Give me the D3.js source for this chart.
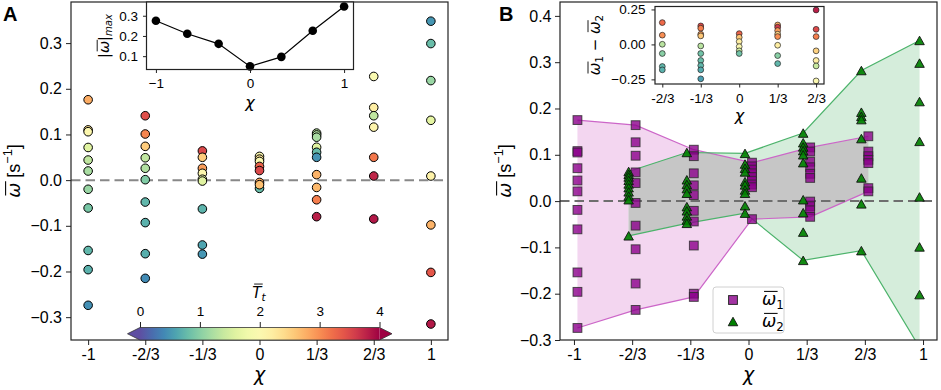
<!DOCTYPE html>
<html><head><meta charset="utf-8">
<script src="https://cdn.jsdelivr.net/npm/d3@7"></script>
<style>body{margin:0;background:#fff;} svg{display:block;}</style>
</head><body><svg id="c" width="941" height="390"></svg>
<script>
// ---------- data ----------
const chiVals = [-1, -2/3, -1/3, 0, 1/3, 2/3, 1];
const chiLabels = ["-1", "-2/3", "-1/3", "0", "1/3", "2/3", "1"];
const cbarTicks = [0, 1, 2, 3, 4];

// Panel A: mean angular velocity per run and its colour value (T_t)
const wA_m1 = [0.176, 0.110, 0.106, 0.0715, 0.044, 0.020, -0.020, -0.061, -0.154, -0.196, -0.274];
const tA_m1 = [2.8, 2.35, 2.05, 1.6, 1.35, 1.2, 1.1, 0.9, 0.75, 0.7, 0.45];
const wA_m23 = [0.141, 0.101, 0.074, 0.049, 0.026, 0.001, -0.048, -0.093, -0.161, -0.215];
const tA_m23 = [3.45, 3.05, 2.55, 1.35, 1.25, 0.95, 0.75, 0.7, 0.68, 0.42];
const wA_m13 = [0.064, 0.050, 0.026, 0.015, 0.002, -0.002, -0.063, -0.142, -0.162];
const tA_m13 = [3.5, 2.55, 2.9, 2.05, 1.7, 1.6, 0.72, 0.6, 0.5];
const wA_0 = [-0.018, 0.052, 0.046, 0.041, 0.030, 0.021, -0.005, -0.010];
const tA_0 = [0.8, 2.0, 2.3, 2.0, 3.3, 3.5, 2.8, 2.65];
const wA_13 = [0.103, 0.099, 0.094, 0.072, 0.061, 0.050, 0.012, -0.016, -0.043, -0.080];
const tA_13 = [1.3, 1.25, 1.2, 1.6, 0.78, 0.48, 2.75, 2.7, 3.1, 3.8];
const wA_23 = [0.227, 0.159, 0.141, 0.116, 0.050, 0.009, -0.085];
const tA_23 = [1.95, 2.2, 1.35, 2.1, 3.15, 3.75, 3.85];
const wA_1 = [0.348, 0.299, 0.218, 0.131, 0.009, -0.098, -0.202, -0.315];
const tA_1 = [0.5, 0.8, 1.1, 1.65, 2.15, 2.75, 3.4, 3.85];

// Inset A: max |mean omega| per chi
const maxAbsW = [0.275, 0.211, 0.161, 0.0495, 0.0966, 0.226, 0.346];

// Inset B: omega1 - omega2 and colour value
const dB_m23 = [0.156, 0.066, 0.001, -0.065, -0.158, -0.182];
const tB_m23 = [3.25, 3.0, 1.3, 1.0, 0.75, 0.7];
const dB_m13 = [0.132, 0.116, 0.073, 0.061, -0.011, -0.065, -0.115, -0.151, -0.182, -0.246];
const tB_m13 = [3.5, 3.1, 2.9, 2.6, 1.3, 0.85, 0.8, 0.75, 0.65, 0.55];
const dB_0 = [0.077, 0.051, 0.020, -0.016, -0.046, -0.065];
const tB_0 = [3.3, 2.6, 2.2, 2.0, 1.5, 0.85];
const dB_13 = [0.139, 0.123, 0.099, 0.073, 0.056, -0.006, -0.080, -0.137];
const tB_13 = [2.8, 3.6, 2.9, 2.5, 3.0, 2.2, 1.0, 0.75];
const dB_23 = [0.246, 0.108, 0.056, -0.046, -0.115, -0.154, -0.261];
const tB_23 = [3.8, 3.5, 3.1, 2.5, 2.2, 1.4, 2.0];

// Panel B: omega1 (squares)
const w1_m1 = [0.175, 0.108, 0.105, 0.071, 0.0445, 0.021, -0.019, -0.061, -0.154, -0.196, -0.274];
const w1_m23 = [0.164, 0.127, 0.098, 0.062, 0.039, -0.004, -0.053, -0.104, -0.178, -0.235];
const w1_m13 = [0.111, 0.097, 0.060, 0.034, 0.013, -0.021, -0.044, -0.096, -0.200, -0.207];
const w1_0 = [0.083, 0.075, 0.068, 0.060, 0.052, 0.044, 0.036, 0.030, -0.039];
const w1_13 = [0.116, 0.107, 0.085, 0.073, 0.059, 0.050, -0.001, -0.011, -0.020, -0.034];
const w1_23 = [0.140, 0.107, 0.097, 0.089, 0.082, 0.028, 0.021];
// Panel B: omega2 (triangles)
const w2_m23 = [0.064, 0.058, 0.052, 0.045, 0.037, 0.029, 0.020, 0.011, 0.003, -0.075];
const w2_m13 = [0.105, 0.046, 0.036, 0.027, 0.017, -0.012, -0.021, -0.032, -0.041, -0.048];
const w2_0 = [0.103, 0.080, 0.071, 0.063, 0.042, 0.035, 0.024, 0.017, -0.010, -0.026];
const w2_13 = [0.147, 0.126, 0.117, 0.109, 0.100, 0.083, 0.003, -0.025, -0.067, -0.128];
const w2_23 = [0.282, 0.192, 0.183, 0.176, 0.135, 0.050, -0.006, -0.107];
const w2_1 = [0.347, 0.298, 0.215, 0.129, 0.009, -0.099, -0.202, -0.316];

// ---------- setup ----------
const FONT = '"Liberation Sans", Arial, sans-serif';
const MATH = '"DejaVu Sans", sans-serif';
const svg = d3.select("#c");
const cmap = T => d3.interpolateSpectral(1 - Math.max(0, Math.min(4, T)) / 4);

function mlabel(parent, x, y, rot, anchor, size, parts) {
  const g = parent.append("g").attr("transform", `translate(${x},${y}) rotate(${rot})`);
  const t = g.append("text").attr("text-anchor", anchor).attr("font-size", size).style("white-space", "pre").attr("fill", "#000");
  let idx = 0, curY = 0; const bars = [];
  parts.forEach(p => {
    const fs = size * (p.sc || 1);
    const newY = -(p.sh || 0) * size;
    t.append("tspan").attr("dy", newY - curY).attr("font-size", fs)
      .style("font-family", p.m ? MATH : FONT).style("font-style", p.it ? "italic" : "normal")
      .text(p.t);
    if (p.bar) bars.push({s: idx, e: idx + p.t.length - 1, y: newY - (p.by || 0.8) * fs, fs});
    idx += p.t.length; curY = newY;
  });
  const n = t.node();
  bars.forEach(b => {
    const s = n.getStartPositionOfChar(b.s), e = n.getEndPositionOfChar(b.e);
    g.append("line").attr("x1", s.x + 0.12 * b.fs).attr("x2", e.x + 0.08 * b.fs)
      .attr("y1", b.y).attr("y2", b.y).attr("stroke", "#000").attr("stroke-width", Math.max(0.9, b.fs * 0.06));
  });
  return g;
}
function styleAxis(g, size) {
  g.attr("font-family", FONT).attr("font-size", size);
  g.select(".domain").remove();
  g.selectAll(".tick line").attr("stroke", "#222").attr("stroke-width", 1);
  g.selectAll(".tick text").attr("fill", "#000");
}
const triPath = (cx, cy, w, h) => `M${cx},${cy - h / 2}L${cx + w / 2},${cy + h / 2}L${cx - w / 2},${cy + h / 2}Z`;

// ---------- scales ----------
const xA = d3.scaleLinear([-1.1, 1.1], [71, 448]);
const yA = d3.scaleLinear([-0.35, 0.39], [340, 2]);
const xB = d3.scaleLinear([-1.08, 1.08], [560, 937]);
const yB = d3.scaleLinear([-0.3, 0.43], [340, 2]);
const xIA = d3.scaleLinear([-1.1, 1.1], [146.5, 353.5]);
const yIA = d3.scaleLinear([0.034, 0.368], [69.5, 2]);
const xIB = d3.scaleLinear([-0.73, 0.735], [655, 824]);
const yIB = d3.scaleLinear([-0.283, 0.271], [84, 6.5]);
const xC = d3.scaleLinear([0, 4], [140, 379.5]);

// ================= PANEL A =================
const colsA = [[wA_m1, tA_m1], [wA_m23, tA_m23], [wA_m13, tA_m13], [wA_0, tA_0], [wA_13, tA_13], [wA_23, tA_23], [wA_1, tA_1]]
  .map((c, i) => c[0].map((w, j) => ({chi: chiVals[i], w, T: c[1][j]})));

const gA = svg.append("g");
gA.append("line").attr("x1", xA.range()[0]).attr("x2", xA.range()[1]).attr("y1", yA(0)).attr("y2", yA(0))
  .attr("stroke", "#888").attr("stroke-width", 2).attr("stroke-dasharray", "9.5,5");
colsA.forEach(col => {
  gA.selectAll(null).data(col).join("circle")
    .attr("cx", d => xA(d.chi)).attr("cy", d => yA(d.w)).attr("r", 4.3)
    .attr("fill", d => cmap(d.T)).attr("stroke", "#000").attr("stroke-width", 1);
});
const axAx = gA.append("g").attr("transform", `translate(0,340)`)
  .call(d3.axisBottom(xA).tickValues(chiVals).tickFormat((d, i) => chiLabels[i]).tickSizeOuter(0).tickSize(5).tickPadding(4));
styleAxis(axAx, 16);
const axAy = gA.append("g").attr("transform", `translate(71,0)`)
  .call(d3.axisLeft(yA).tickValues([-0.3, -0.2, -0.1, 0, 0.1, 0.2, 0.3]).tickFormat(d3.format(".1f")).tickSizeOuter(0).tickSize(5).tickPadding(4));
styleAxis(axAy, 16);

// inset A
const gIA = svg.append("g");
gIA.append("rect").attr("x", 146.5).attr("y", 2).attr("width", 207).attr("height", 67.5).attr("fill", "#fff");
gIA.append("path").datum(maxAbsW.map((v, i) => [chiVals[i], v]))
  .attr("d", d3.line().x(d => xIA(d[0])).y(d => yIA(d[1]))).attr("fill", "none").attr("stroke", "#000").attr("stroke-width", 1.2);
gIA.selectAll(null).data(maxAbsW.map((v, i) => [chiVals[i], v])).join("circle")
  .attr("cx", d => xIA(d[0])).attr("cy", d => yIA(d[1])).attr("r", 4.3).attr("fill", "#000");
const iax = gIA.append("g").attr("transform", `translate(0,69.5)`)
  .call(d3.axisBottom(xIA).tickValues([-1, 0, 1]).tickFormat(d3.format("d")).tickSizeOuter(0).tickSize(3.5).tickPadding(5.5));
styleAxis(iax, 13.5);
const iay = gIA.append("g").attr("transform", `translate(146.5,0)`)
  .call(d3.axisLeft(yIA).tickValues([0.1, 0.2, 0.3]).tickFormat(d3.format(".1f")).tickSizeOuter(0).tickSize(3.5).tickPadding(5));
styleAxis(iay, 13.5);
gIA.append("rect").attr("x", 146.5).attr("y", 2).attr("width", 207).attr("height", 67.5)
  .attr("fill", "none").attr("stroke", "#222").attr("stroke-width", 1.2);
mlabel(gIA, 250, 108, 0, "middle", 16, [{t: "χ", it: true, m: true}]);
mlabel(gIA, 108.5, 36, -90, "middle", 14.5, [{t: "|", m: true}, {t: "ω", it: true, m: true, bar: true, by: 0.78}, {t: "|", m: true}, {t: "max", it: true, m: true, sc: 0.7, sh: -0.22}]);

// colorbar
const gC = svg.append("g");
const grad = svg.append("defs").append("linearGradient").attr("id", "cbg");
d3.range(0, 1.0001, 0.05).forEach(t => grad.append("stop").attr("offset", t).attr("stop-color", cmap(t * 4)));
const cy0 = 327.5, cy1 = 340, cx0 = xC(0), cx1 = xC(4);
gC.append("rect").attr("x", cx0).attr("y", cy0).attr("width", cx1 - cx0).attr("height", cy1 - cy0).attr("fill", "url(#cbg)");
gC.append("path").attr("d", `M${cx0},${cy0}L${cx0 - 12.5},${(cy0 + cy1) / 2}L${cx0},${cy1}Z`).attr("fill", cmap(0));
gC.append("path").attr("d", `M${cx1},${cy0}L${cx1 + 12.5},${(cy0 + cy1) / 2}L${cx1},${cy1}Z`).attr("fill", cmap(4));
gC.append("path").attr("d", `M${cx0},${cy0}L${cx1},${cy0}L${cx1 + 12.5},${(cy0 + cy1) / 2}L${cx1},${cy1}L${cx0},${cy1}L${cx0 - 12.5},${(cy0 + cy1) / 2}Z`)
  .attr("fill", "none").attr("stroke", "#333").attr("stroke-width", 0.8);
const cax = gC.append("g").attr("transform", `translate(0,${cy0})`)
  .call(d3.axisTop(xC).tickValues(cbarTicks).tickFormat(d3.format("d")).tickSizeOuter(0).tickSize(5.5).tickPadding(6));
styleAxis(cax, 13.5);
mlabel(gC, 259, 298, 0, "middle", 15, [{t: "T", it: true, m: true, bar: true, by: 0.93}, {t: "t", it: true, m: true, sc: 0.7, sh: -0.22}]);

// frame A
gA.append("rect").attr("x", 71).attr("y", 2).attr("width", 377).attr("height", 338)
  .attr("fill", "none").attr("stroke", "#222").attr("stroke-width", 1.2);
mlabel(svg, 259.5, 381, 0, "middle", 19, [{t: "χ", it: true, m: true}]);
mlabel(svg, 20, 171, -90, "middle", 18, [{t: "ω", it: true, m: true, bar: true}, {t: " [s"}, {t: "−1", sc: 0.7, sh: 0.42}, {t: "]", sh: 0}]);
svg.append("text").attr("x", 3).attr("y", 21).attr("font-family", FONT).attr("font-weight", "bold").attr("font-size", 20).text("A");

// ================= PANEL B =================
const OFF1 = 0.02, OFF2 = -0.02;
const sqCols = [w1_m1, w1_m23, w1_m13, w1_0, w1_13, w1_23].map((v, i) => ({chi: chiVals[i], v}));
const trCols = [w2_m23, w2_m13, w2_0, w2_13, w2_23, w2_1].map((v, i) => ({chi: chiVals[i + 1], v}));
const env1 = sqCols.map(c => ({x: c.chi + OFF1, hi: d3.max(c.v), lo: d3.min(c.v)}));
const env2 = trCols.map(c => ({x: c.chi + OFF2, hi: d3.max(c.v), lo: d3.min(c.v)}));
function lerp(env, key, x) {
  for (let i = 0; i < env.length - 1; i++) {
    if (x >= env[i].x && x <= env[i + 1].x) {
      const f = (x - env[i].x) / (env[i + 1].x - env[i].x);
      return env[i][key] + f * (env[i + 1][key] - env[i][key]);
    }
  }
  return x < env[0].x ? env[0][key] : env[env.length - 1][key];
}
const gx0 = Math.max(env1[0].x, env2[0].x), gx1 = Math.min(env1[env1.length - 1].x, env2[env2.length - 1].x);
const inter = d3.range(0, 601).map(i => gx0 + (gx1 - gx0) * i / 600).map(x => ({
  x, hi: Math.min(lerp(env1, "hi", x), lerp(env2, "hi", x)), lo: Math.max(lerp(env1, "lo", x), lerp(env2, "lo", x))
}));

svg.select("defs").append("clipPath").attr("id", "clipB").append("rect").attr("x", 560).attr("y", 2).attr("width", 377).attr("height", 338);
const gB = svg.append("g");
const plotB = gB.append("g").attr("clip-path", "url(#clipB)");
const area = d3.area().x(d => xB(d.x)).y0(d => yB(d.lo)).y1(d => yB(d.hi));
plotB.append("path").datum(env1).attr("d", area).attr("fill", "#f3d6f0");
plotB.append("path").datum(env2).attr("d", area).attr("fill", "#d5eddb");
plotB.append("path").datum(inter).attr("d", area.defined(d => d.hi >= d.lo)).attr("fill", "#c6c6c6");
["hi", "lo"].forEach(k => {
  plotB.append("path").datum(env1).attr("d", d3.line().x(d => xB(d.x)).y(d => yB(d[k])))
    .attr("fill", "none").attr("stroke", "#cc66c8").attr("stroke-width", 1.2);
  plotB.append("path").datum(env2).attr("d", d3.line().x(d => xB(d.x)).y(d => yB(d[k])))
    .attr("fill", "none").attr("stroke", "#4cb36b").attr("stroke-width", 1.2);
});
plotB.append("line").attr("x1", 560).attr("x2", 937).attr("y1", yB(0)).attr("y2", yB(0))
  .attr("stroke", "#6e6e6e").attr("stroke-width", 2).attr("stroke-dasharray", "9.5,5");
const SQ = 8.8;
sqCols.forEach(c => {
  plotB.selectAll(null).data(c.v).join("rect")
    .attr("x", d => xB(c.chi + OFF1) - SQ / 2).attr("y", d => yB(d) - SQ / 2).attr("width", SQ).attr("height", SQ)
    .attr("fill", "#8b008b").attr("fill-opacity", 0.8).attr("stroke", "#2a2a2a").attr("stroke-opacity", 0.8).attr("stroke-width", 1);
});
trCols.forEach(c => {
  plotB.selectAll(null).data(c.v).join("path")
    .attr("d", d => triPath(xB(c.chi + OFF2), yB(d), 9.5, 8.5))
    .attr("fill", "#008000").attr("fill-opacity", 0.92).attr("stroke", "#111").attr("stroke-width", 0.9);
});
const bxAx = gB.append("g").attr("transform", `translate(0,340)`)
  .call(d3.axisBottom(xB).tickValues(chiVals).tickFormat((d, i) => chiLabels[i]).tickSizeOuter(0).tickSize(5).tickPadding(4));
styleAxis(bxAx, 16);
const bxAy = gB.append("g").attr("transform", `translate(560,0)`)
  .call(d3.axisLeft(yB).tickValues([-0.3, -0.2, -0.1, 0, 0.1, 0.2, 0.3, 0.4]).tickFormat(d3.format(".1f")).tickSizeOuter(0).tickSize(5).tickPadding(3.5));
styleAxis(bxAy, 16);

// inset B
const gIB = svg.append("g");
gIB.append("rect").attr("x", 655).attr("y", 6.5).attr("width", 169).attr("height", 77.5).attr("fill", "#fff");
const colsIB = [[dB_m23, tB_m23], [dB_m13, tB_m13], [dB_0, tB_0], [dB_13, tB_13], [dB_23, tB_23]];
colsIB.forEach((c, i) => {
  gIB.selectAll(null).data(c[0].map((v, j) => ({v, T: c[1][j]}))).join("circle")
    .attr("cx", xIB(chiVals[i + 1])).attr("cy", d => yIB(d.v)).attr("r", 2.9)
    .attr("fill", d => cmap(d.T)).attr("stroke", "#222").attr("stroke-width", 0.7);
});
const ibx = gIB.append("g").attr("transform", `translate(0,84)`)
  .call(d3.axisBottom(xIB).tickValues(chiVals.slice(1, 6)).tickFormat((d, i) => chiLabels[i + 1]).tickSizeOuter(0).tickSize(3.5).tickPadding(6));
styleAxis(ibx, 13.5);
const iby = gIB.append("g").attr("transform", `translate(655,0)`)
  .call(d3.axisLeft(yIB).tickValues([-0.25, 0, 0.25]).tickFormat(d3.format(".2f")).tickSizeOuter(0).tickSize(3.5).tickPadding(6));
styleAxis(iby, 13.5);
gIB.append("rect").attr("x", 655).attr("y", 6.5).attr("width", 169).attr("height", 77.5)
  .attr("fill", "none").attr("stroke", "#222").attr("stroke-width", 1.2);
mlabel(gIB, 739.5, 121, 0, "middle", 16, [{t: "χ", it: true, m: true}]);
mlabel(gIB, 600, 45, -90, "middle", 15, [{t: "ω", it: true, m: true, bar: true}, {t: "1", m: true, sc: 0.7, sh: -0.22}, {t: " − ", m: true, sh: 0}, {t: "ω", it: true, m: true, bar: true}, {t: "2", m: true, sc: 0.7, sh: -0.22}]);

// legend
const gL = svg.append("g");
gL.append("rect").attr("x", 713).attr("y", 287).attr("width", 71).attr("height", 46).attr("rx", 3)
  .attr("fill", "#fff").attr("fill-opacity", 0.85).attr("stroke", "#d0d0d0").attr("stroke-width", 1);
gL.append("rect").attr("x", 733 - SQ / 2).attr("y", 300 - SQ / 2).attr("width", SQ).attr("height", SQ)
  .attr("fill", "#8b008b").attr("fill-opacity", 0.8).attr("stroke", "#2a2a2a").attr("stroke-width", 1);
gL.append("path").attr("d", triPath(733, 321.5, 9.5, 8.5)).attr("fill", "#008000").attr("stroke", "#111").attr("stroke-width", 0.9);
mlabel(gL, 762, 305, 0, "start", 17, [{t: "ω", it: true, m: true, bar: true}, {t: "1", m: true, sc: 0.7, sh: -0.22}]);
mlabel(gL, 762, 327, 0, "start", 17, [{t: "ω", it: true, m: true, bar: true}, {t: "2", m: true, sc: 0.7, sh: -0.22}]);

// frame B
gB.append("rect").attr("x", 560).attr("y", 2).attr("width", 377).attr("height", 338)
  .attr("fill", "none").attr("stroke", "#222").attr("stroke-width", 1.2);
mlabel(svg, 748.5, 381, 0, "middle", 19, [{t: "χ", it: true, m: true}]);
mlabel(svg, 511, 171, -90, "middle", 18, [{t: "ω", it: true, m: true, bar: true}, {t: " [s"}, {t: "−1", sc: 0.7, sh: 0.42}, {t: "]", sh: 0}]);
svg.append("text").attr("x", 499).attr("y", 21).attr("font-family", FONT).attr("font-weight", "bold").attr("font-size", 20).text("B");
</script>
</body></html>
